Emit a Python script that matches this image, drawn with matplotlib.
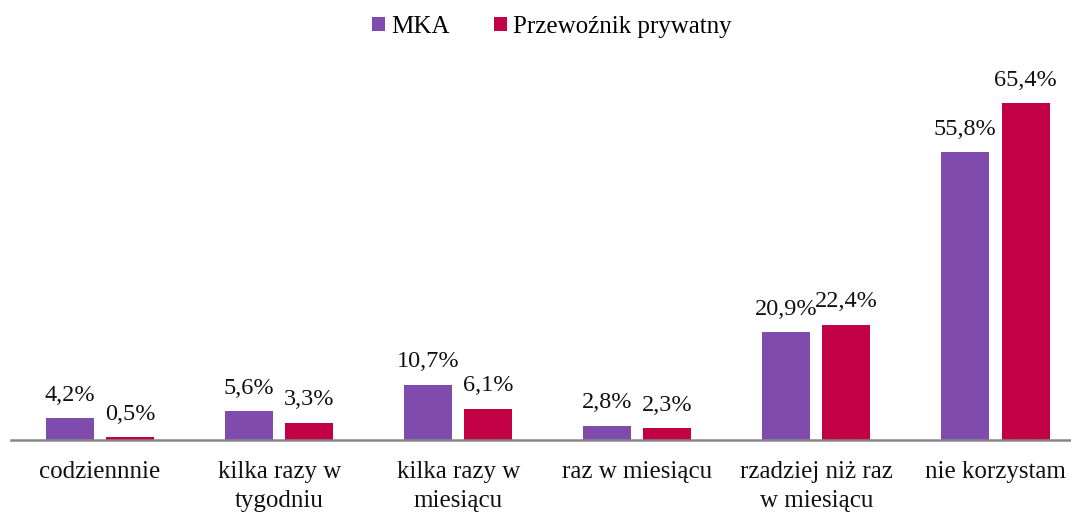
import matplotlib
matplotlib.use("Agg")
import matplotlib.pyplot as plt
import numpy as np

categories = ["codziennnie", "kilka razy w\ntygodniu", "kilka razy w\nmiesiącu",
              "raz w miesiącu", "rzadziej niż raz\nw miesiącu", "nie korzystam"]
mka = [4.2, 5.6, 10.7, 2.8, 20.9, 55.8]
prywatny = [0.5, 3.3, 6.1, 2.3, 22.4, 65.4]
series_names = ["MKA", "Przewoźnik prywatny"]
colors = ["#7F4CAD", "#C20045"]

plt.rcParams['font.family'] = ['Liberation Serif', 'DejaVu Serif']

fig = plt.figure(figsize=(10.71, 5.15), dpi=100)
ax = fig.add_axes([10.5/1071, 1-440/515, (1085-10.5)/1071, 360.7/515])

x = np.arange(len(categories))
w = 0.268
off = 0.168
b1 = ax.bar(x - off, mka, w, color=colors[0], label=series_names[0])
b2 = ax.bar(x + off, prywatny, w, color=colors[1], label=series_names[1])

for bars, vals in ((b1, mka), (b2, prywatny)):
    for rect, v in zip(bars, vals):
        ax.annotate(f"{v:.1f}%".replace('.', ','),
                    (rect.get_x() + rect.get_width()/2, rect.get_height()),
                    xytext=(0, 9), textcoords="offset points",
                    ha="center", va="bottom", fontsize=17.5, color="#111111")

ax.set_xlim(-0.5, 5.5)
ax.set_ylim(0, 70)
ax.set_xticks(x)
ax.set_xticklabels(categories, fontsize=18, color="#111111", linespacing=1.45)
ax.tick_params(axis='x', length=0, pad=15)
ax.set_yticks([])
for s in ["top", "right", "left"]:
    ax.spines[s].set_visible(False)
ax.spines["bottom"].set_color("#868686")
ax.spines["bottom"].set_linewidth(1.8)

leg = fig.legend(loc="center", bbox_to_anchor=(552/1071, 1-27/515), ncol=2,
                 frameon=False, fontsize=18, handlelength=0.5, handleheight=0.5,
                 handletextpad=0.25, columnspacing=1.8)

fig.savefig("out.png", dpi=100)
